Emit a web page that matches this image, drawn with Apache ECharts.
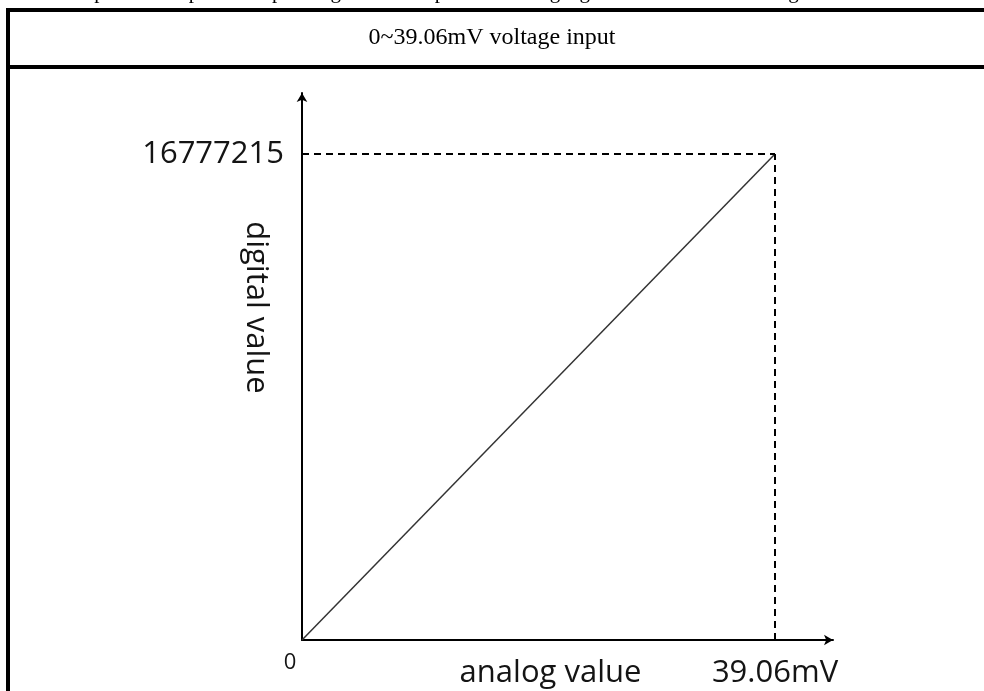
<!DOCTYPE html>
<html>
<head>
<meta charset="utf-8">
<script src="https://cdn.jsdelivr.net/npm/echarts@6/dist/echarts.min.js"></script>
<style>
html,body{margin:0;padding:0;background:#fff;}
#chart{width:984px;height:691px;}
</style>
</head>
<body>
<div id="chart"></div>
<script>
// ---- data ----
var title = '0~39.06mV voltage input';
var captionAbove = 'The input and output corresponding relationship of the analog signal is as shown in the figure:';
var xName = 'analog value';
var yName = 'digital value';
var analogMax = 39.06;        // mV
var digitalMax = 16777215;    // full-scale digital value
var linePoints = [[0, 0], [39.06, 16777215]];
var xTickValues = [0, 39.06];
var xTickLabels = ['0', '39.06mV'];
var yTickValues = [16777215];
var yTickLabels = ['16777215'];

var chart = echarts.init(document.getElementById('chart'), null, {renderer: 'canvas'});
var sansFont = '"Open Sans", "Noto Sans", sans-serif';
var textColor = '#141414';

var option = {
  backgroundColor: '#ffffff',
  animation: false,
  grid: {left: 302, right: 151, top: 93, bottom: 51, containLabel: false, outerBoundsMode: 'none'},
  xAxis: {
    type: 'value',
    min: 0,
    max: 43.85,
    splitLine: {show: false},
    axisLine: {show: true, lineStyle: {color: '#000', width: 2},
      symbol: ['none', 'arrow'], symbolSize: [8, 9]},
    axisTick: {show: false},
    axisLabel: {
      show: true,
      customValues: xTickValues,
      formatter: function (v) {
        var i = xTickValues.indexOf(v);
        return i === 0 ? '{z|' + xTickLabels[i] + '}' : '{m|' + xTickLabels[i] + '}';
      },
      rich: {
        z: {fontFamily: sansFont, fontSize: 22, color: textColor, padding: [2, 24, 0, 0]},
        m: {fontFamily: sansFont, fontSize: 31, color: textColor, padding: [8, 0, 0, 0]}
      },
      margin: 10
    },
    name: xName,
    nameLocation: 'middle',
    nameGap: 18,
    nameMoveOverlap: false,
    nameTextStyle: {fontFamily: sansFont, fontSize: 31, color: textColor, padding: [0, 34, 0, 0]}
  },
  yAxis: {
    type: 'value',
    min: 0,
    max: 18880000,
    splitLine: {show: false},
    axisLine: {show: true, lineStyle: {color: '#000', width: 2},
      symbol: ['none', 'arrow'], symbolSize: [8, 9]},
    axisTick: {show: false},
    axisLabel: {
      show: true,
      customValues: yTickValues,
      formatter: function (v) {
        var i = yTickValues.indexOf(v);
        return i >= 0 ? yTickLabels[i] : '';
      },
      fontFamily: sansFont,
      fontSize: 31,
      color: textColor,
      margin: 18
    },
    name: yName,
    nameLocation: 'middle',
    nameRotate: -90,
    nameGap: 31,
    nameMoveOverlap: false,
    nameTextStyle: {fontFamily: sansFont, fontSize: 31, color: textColor, padding: [0, 118, 0, 0]}
  },
  series: [{
    type: 'line',
    data: linePoints,
    showSymbol: false,
    symbol: 'none',
    lineStyle: {color: '#333', width: 1.5},
    silent: true,
    markLine: {
      silent: true,
      symbol: ['none', 'none'],
      lineStyle: {color: '#000', type: [7, 5], width: 2},
      label: {show: false},
      data: [
        [{coord: [0, digitalMax]}, {coord: [analogMax, digitalMax]}],
        [{coord: [analogMax, 0]}, {coord: [analogMax, digitalMax]}]
      ]
    }
  }],
  graphic: [
    {type: 'text', silent: true, x: 40, y: -18,
      style: {text: captionAbove, font: '21px "Liberation Serif", serif', fill: '#000',
        textAlign: 'left', textVerticalAlign: 'top'}},
    {type: 'rect', silent: true, shape: {x: 6, y: 8, width: 990, height: 4}, style: {fill: '#000'}},
    {type: 'rect', silent: true, shape: {x: 6, y: 65, width: 990, height: 4}, style: {fill: '#000'}},
    {type: 'rect', silent: true, shape: {x: 6, y: 8, width: 4, height: 700}, style: {fill: '#000'}},
    {type: 'text', silent: true, x: 492, y: 38,
      style: {text: title, font: '24px "Liberation Serif", serif', fill: '#000',
        textAlign: 'center', textVerticalAlign: 'middle'}}
  ]
};
chart.setOption(option);
</script>
</body>
</html>
